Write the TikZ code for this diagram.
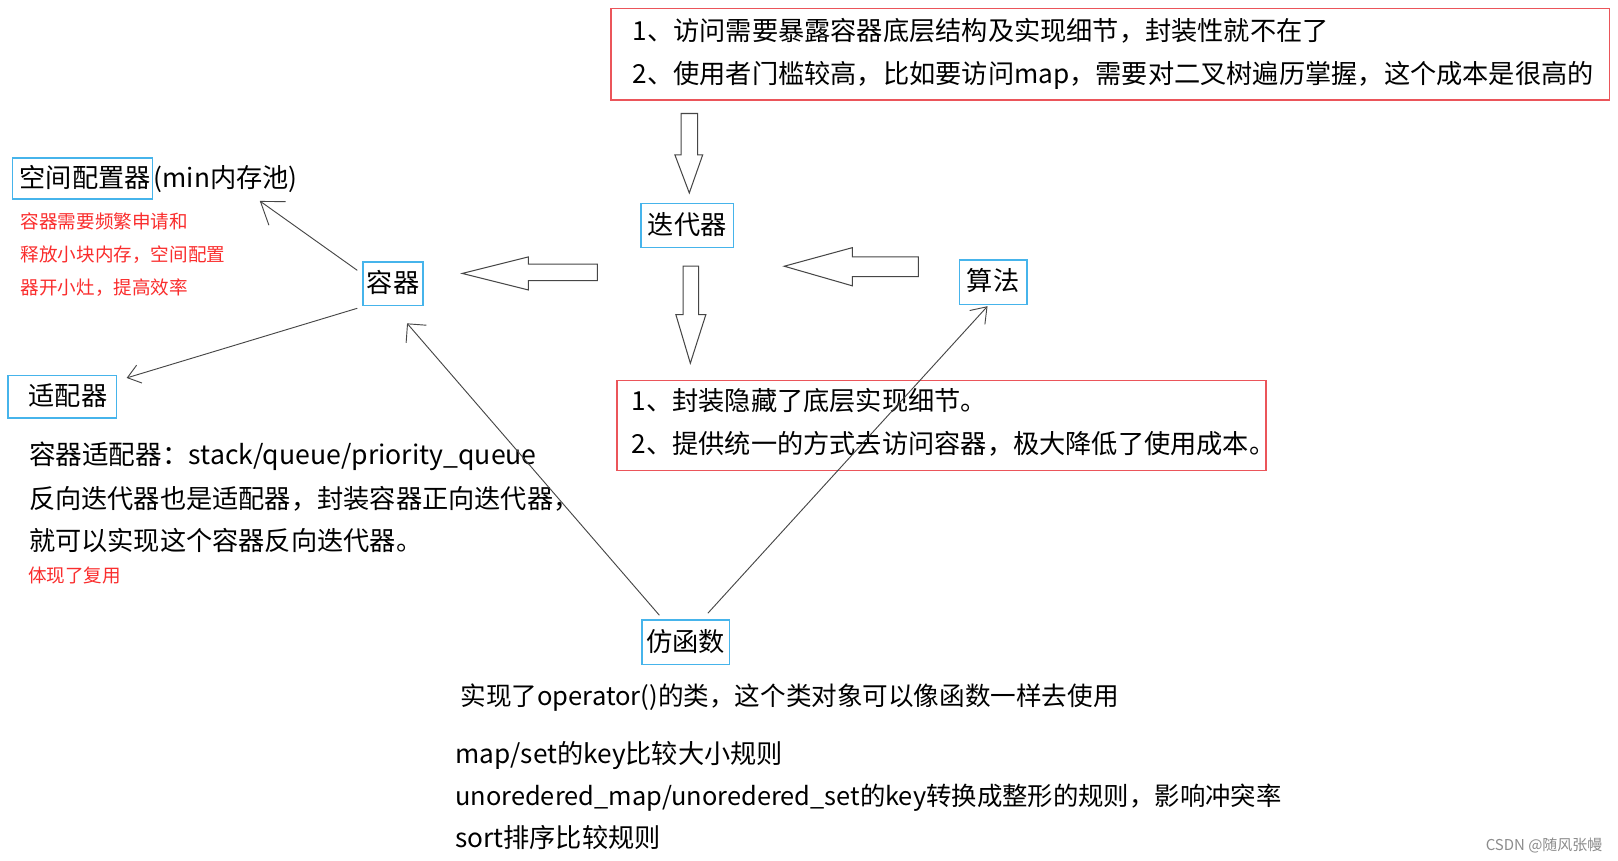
\documentclass[tikz,border=0pt]{standalone}
\usepackage{fontspec}
\setmainfont{Noto Sans CJK SC}
\usetikzlibrary{arrows.meta}
\definecolor{boxred}{RGB}{235,85,90}
\definecolor{boxblue}{RGB}{70,180,235}
\definecolor{txtred}{RGB}{250,45,45}
\definecolor{linegray}{RGB}{70,70,70}
\definecolor{wmgray}{RGB}{140,140,140}
\begin{document}
\begin{tikzpicture}[x=1pt,y=-1pt,
  redbox/.style={draw=boxred, line width=1.3pt, inner sep=0pt},
  bluebox/.style={draw=boxblue, line width=1.5pt, inner sep=0pt, font=\fontsize{25.4}{30}\selectfont, text height=1.7em, text depth=0em},
  txt/.style={anchor=west, inner sep=0pt, font=\fontsize{25.4}{30}\selectfont, text height=1.7em, text depth=0em},
  rtxt/.style={anchor=west, inner sep=0pt, text=txtred, font=\fontsize{18}{22}\selectfont, text height=1.7em, text depth=0em},
  hollow/.style={draw=linegray, line width=1pt, fill=white, line join=miter},
  conn/.style={draw=linegray, line width=0.9pt},
]
\useasboundingbox[fill=white] (0,0) rectangle (1568,834);

% boxes
\node[redbox, minimum width=968pt, minimum height=89pt] (topbox) at (1076,52.5) {};
\node[redbox, minimum width=629pt, minimum height=87pt] (lowbox) at (912.5,412.5) {};
\node[bluebox, minimum width=90pt, minimum height=43pt] (iter) at (666,218.5) {迭代器};
\node[bluebox, minimum width=58pt, minimum height=42pt] (rq) at (381,275) {容器};
\node[bluebox, minimum width=65pt, minimum height=43pt] (alg) at (962.5,273.5) {算法};
\node[bluebox, minimum width=85pt, minimum height=43pt] (fun) at (664.5,622.5) {仿函数};
\node[bluebox, minimum width=105pt, minimum height=41pt] (adp) at (60.5,384.5) {\hspace*{11pt}适配器};
\node[bluebox, minimum width=136pt, minimum height=40pt] (alloc) at (80,173) {\hspace*{5pt}空间配置器};
\node[txt] (allocx) at (alloc.east) {(min内存池)};

% top box text
\node[txt] (t1) at (613,31) {1、访问需要暴露容器底层结构及实现细节，封装性就不在了};
\node[txt] (t2) at (613,72.5) {2、使用者门槛较高，比如要访问map，需要对二叉树遍历掌握，这个成本是很高的};

% lower box text
\node[txt] (l1) at (612,389) {1、封装隐藏了底层实现细节。};
\node[txt] (l2) at (612,431) {2、提供统一的方式去访问容器，极大降低了使用成本。};

% allocator note
\node[rtxt] (r1) at (20,213) {容器需要频繁申请和};
\node[rtxt] (r2) at (20,245) {释放小块内存，空间配置};
\node[rtxt] (r3) at (20,277) {器开小灶，提高效率};

% adapter note
\node[txt, font=\fontsize{25.8}{30}\selectfont] (a1) at (28,442) {容器适配器：stack/queue/priority\_queue};
\node[txt] (a2) at (28,484) {反向迭代器也是适配器，封装容器正向迭代器，};
\node[txt] (a3) at (28,525) {就可以实现这个容器反向迭代器。};
\node[rtxt] (a4) at (27,556) {体现了复用};

% functor note
\node[txt, font=\fontsize{24.8}{30}\selectfont] (f1) at (446,675) {实现了operator()的类，这个类对象可以像函数一样去使用};
\node[txt] (f2) at (441,731.5) {map/set的key比较大小规则};
\node[txt, font=\fontsize{24.6}{30}\selectfont] (f3) at (441,772) {unoredered\_map/unoredered\_set的key转换成整形的规则，影响冲突率};
\node[txt] (f4) at (441,813) {sort排序比较规则};

% watermark
\node[anchor=east, inner sep=0pt, text=wmgray, font=\fontsize{14.5}{18}\selectfont, text height=1.7em, text depth=0em] (wm) at (1553,816) {CSDN @随风张幔};

% hollow block arrows
\draw[hollow] (660,110) -- (676,110) -- (676,150) -- (681,150) -- (668,187) -- (654,150) -- (660,150) -- cycle;
\draw[hollow] (662,258) -- (677,258) -- (677,305) -- (684,305) -- (669,352) -- (655,305) -- (662,305) -- cycle;
\draw[hollow] (579,256) -- (512,256) -- (512,249) -- (448,265) -- (512,281) -- (512,272) -- (579,272) -- cycle;
\draw[hollow] (890,249) -- (826,249) -- (826,240) -- (760,258) -- (826,277) -- (826,268) -- (890,268) -- cycle;

% connectors
\draw[conn, -{Straight Barb[length=20pt,width=28pt]}] ([shift={(-5,-13)}]rq.west) -- ([shift={(103,1)}]alloc.south east);
\draw[conn, -{Straight Barb[length=12pt,width=18pt]}] ([shift={(-5,2)}]rq.south west) -- ([shift={(9,3)}]adp.north east);
\draw[conn, -{Straight Barb[length=13pt,width=26pt]}] ([shift={(-25.5,-4)}]fun.north) -- ([shift={(13.5,16.6)}]rq.south);
\draw[conn, -{Straight Barb[length=14pt,width=20pt]}] ([shift={(21.5,-6)}]fun.north) -- ([shift={(-5.5,1)}]alg.south);
\end{tikzpicture}
\end{document}
